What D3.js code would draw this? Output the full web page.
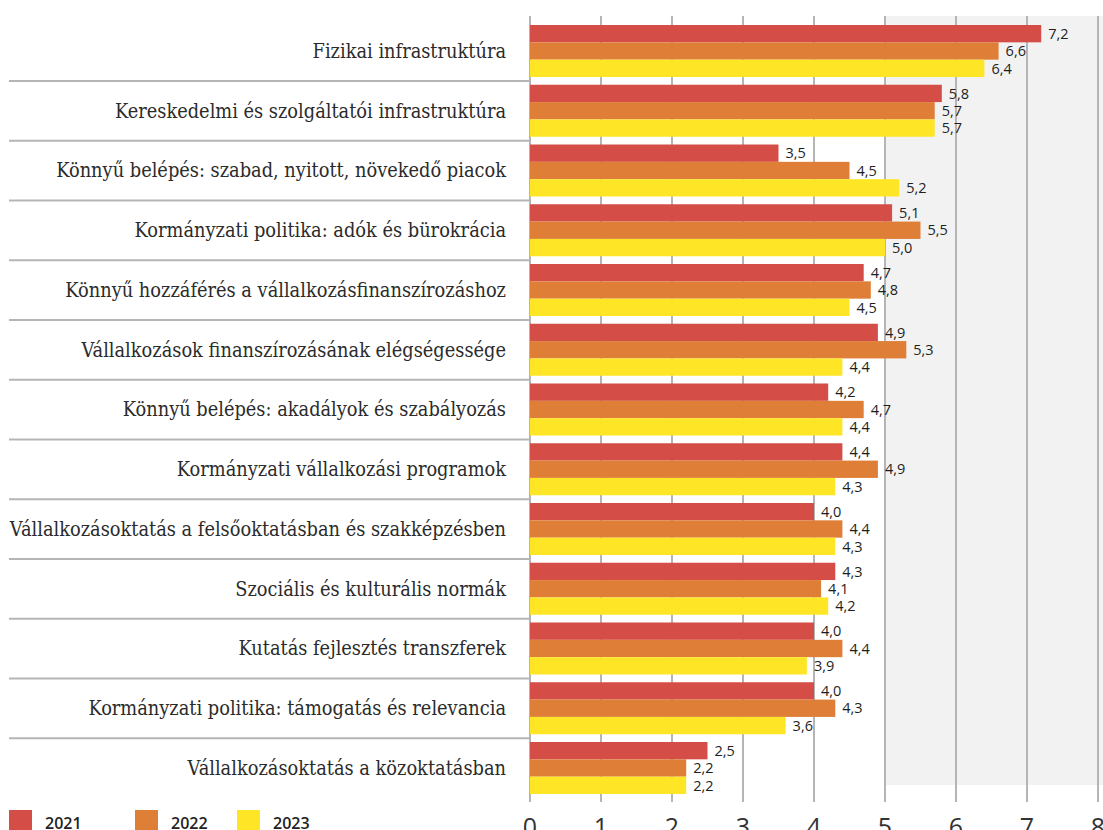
<!DOCTYPE html>
<html>
<head>
<meta charset="utf-8">
<script src="https://cdn.jsdelivr.net/npm/d3@7"></script>
<style>
  body { margin: 0; background: #fff; }
  svg { display: block; }
</style>
</head>
<body>
<div id="chart"></div>
<script>
// Categories (top to bottom)
const categories = [
    "Fizikai infrastruktúra",
    "Kereskedelmi és szolgáltatói infrastruktúra",
    "Könnyű belépés: szabad, nyitott, növekedő piacok",
    "Kormányzati politika: adók és bürokrácia",
    "Könnyű hozzáférés a vállalkozásfinanszírozáshoz",
    "Vállalkozások finanszírozásának elégségessége",
    "Könnyű belépés: akadályok és szabályozás",
    "Kormányzati vállalkozási programok",
    "Vállalkozásoktatás a felsőoktatásban és szakképzésben",
    "Szociális és kulturális normák",
    "Kutatás fejlesztés transzferek",
    "Kormányzati politika: támogatás és relevancia",
    "Vállalkozásoktatás a közoktatásban"
];

const years = ["2021", "2022", "2023"];

const values2021 = [7.2, 5.8, 3.5, 5.1, 4.7, 4.9, 4.2, 4.4, 4.0, 4.3, 4.0, 4.0, 2.5];
const values2022 = [6.6, 5.7, 4.5, 5.5, 4.8, 5.3, 4.7, 4.9, 4.4, 4.1, 4.4, 4.3, 2.2];
const values2023 = [6.4, 5.7, 5.2, 5.0, 4.5, 4.4, 4.4, 4.3, 4.3, 4.2, 3.9, 3.6, 2.2];

const xTicks = [0, 1, 2, 3, 4, 5, 6, 7, 8];

const colors = ["#d44d46", "#df7e37", "#fee626"];

// rows built from the arrays above
const data = categories.map((c, i) => ({
    category: c,
    "2021": values2021[i],
    "2022": values2022[i],
    "2023": values2023[i]
}));

const width = 1103;
const height = 830;

const svg = d3.select("#chart")
    .append("svg")
    .attr("width", width)
    .attr("height", height);

// Scales
const x = d3.scaleLinear()
    .domain([0, 8])
    .range([530, 1098]);

const step = 59.75;
const pad = 7.75 / step;
const y0 = 25 - step * pad / 2;
const y = d3.scaleBand()
    .domain(categories)
    .range([y0, y0 + step * categories.length])
    .paddingInner(pad)
    .paddingOuter(pad / 2);

const y1 = d3.scaleBand()
    .domain(years)
    .range([0, y.bandwidth()]);

const color = d3.scaleOrdinal()
    .domain(years)
    .range(colors);

const gridTop = 16;
const gridBottom = 802;

// Shaded region from 5 upwards
svg.append("rect")
    .attr("x", x(5))
    .attr("y", gridTop)
    .attr("width", width - x(5))
    .attr("height", 785 - gridTop)
    .attr("fill", "#f2f2f2");

// Gridlines (incl. the zero line)
svg.append("g")
    .selectAll("line")
    .data(xTicks)
    .enter().append("line")
    .attr("x1", d => x(d))
    .attr("x2", d => x(d))
    .attr("y1", gridTop)
    .attr("y2", gridBottom)
    .attr("stroke", "#b5b5b5")
    .attr("stroke-width", 2);

// Row separators in the label area
svg.append("g")
    .selectAll("line")
    .data(categories.slice(1))
    .enter().append("line")
    .attr("x1", 9)
    .attr("x2", x(0))
    .attr("y1", d => y(d) - (y.step() - y.bandwidth()) / 2)
    .attr("y2", d => y(d) - (y.step() - y.bandwidth()) / 2)
    .attr("stroke", "#b5b5b5")
    .attr("stroke-width", 2);

// Category labels
svg.append("g")
    .selectAll("text")
    .data(categories)
    .enter().append("text")
    .attr("x", 506)
    .attr("y", d => y(d) + y.bandwidth() / 2)
    .attr("dy", "0.35em")
    .attr("text-anchor", "end")
    .style("font-family", "'DejaVu Serif Condensed', 'DejaVu Serif', serif")
    .style("font-stretch", "condensed")
    .style("font-size", "19.8px")
    .style("fill", "#2b2b2b")
    .text(d => d);

// Bars
const fmt = v => d3.format(".1f")(v).replace(".", ",");

const groups = svg.append("g")
    .selectAll("g")
    .data(data)
    .enter().append("g")
    .attr("transform", d => `translate(0,${y(d.category)})`);

const cells = groups.selectAll("g")
    .data(d => years.map(k => ({ key: k, value: d[k] })))
    .enter().append("g");

cells.append("rect")
    .attr("x", x(0))
    .attr("y", d => y1(d.key))
    .attr("width", d => x(d.value) - x(0))
    .attr("height", y1.bandwidth())
    .attr("fill", d => color(d.key));

cells.append("text")
    .attr("x", d => x(d.value) + 7)
    .attr("y", d => y1(d.key) + y1.bandwidth() / 2)
    .attr("dy", "0.36em")
    .style("font-family", "'Open Sans', sans-serif")
    .style("font-size", "14.5px")
    .style("fill", "#1e1e1e")
    .text(d => fmt(d.value));

// X axis tick labels (bottom, partly cut by the frame as in the original)
svg.append("g")
    .selectAll("text")
    .data(xTicks)
    .enter().append("text")
    .attr("x", d => x(d))
    .attr("y", 836)
    .attr("text-anchor", "middle")
    .style("font-family", "'Open Sans', sans-serif")
    .style("font-size", "25px")
    .style("fill", "#333")
    .text(d => d);

// Legend
const legendX = [9, 135, 237];
const legend = svg.append("g")
    .selectAll("g")
    .data(years)
    .enter().append("g")
    .attr("transform", (d, i) => `translate(${legendX[i]},810)`);

legend.append("rect")
    .attr("width", 23)
    .attr("height", 22)
    .attr("fill", d => color(d));

legend.append("text")
    .attr("x", 36)
    .attr("y", 19)
    .style("font-family", "'Open Sans', sans-serif")
    .style("font-size", "16px")
    .style("font-weight", "600")
    .style("fill", "#222")
    .text(d => d);
</script>
</body>
</html>
